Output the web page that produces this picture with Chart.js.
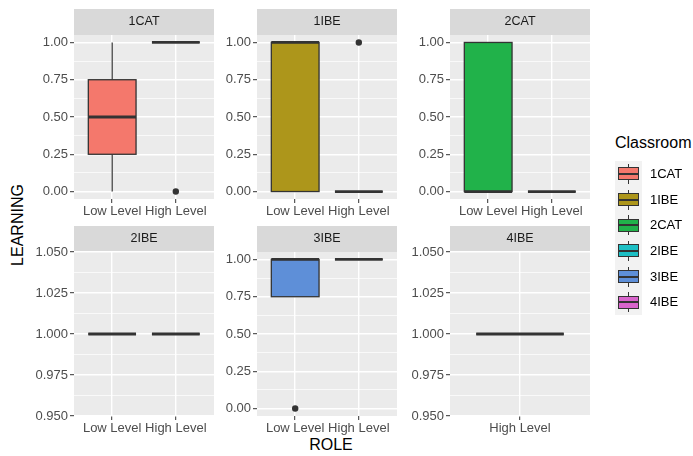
<!DOCTYPE html>
<html>
<head>
<meta charset="utf-8">
<script src="https://cdn.jsdelivr.net/npm/chart.js@4.4.1/dist/chart.umd.min.js"></script>
<style>
  body { margin: 0; background: #fff; font-family: 'Liberation Sans', Arial, sans-serif; }
  #page { position: relative; width: 693px; height: 456px; overflow: hidden; }
  canvas { position: absolute; }
  .title { position: absolute; font-size: 16px; color: #000; white-space: nowrap; }
  .keybg { position: absolute; left: 615px; top: 161px; width: 27px; height: 154px; background: #F2F2F2; }
  .key { position: absolute; }
  .keytext { position: absolute; font-size: 13px; color: #000; white-space: nowrap; }
</style>
</head>
<body>
<div id="page">
  <div class="title" style="left:18px;top:225px;transform:translate(-50%,-50%) rotate(-90deg);">LEARNING</div>
  <div class="title" style="left:331px;top:445px;transform:translate(-50%,-50%);">ROLE</div>
  <div class="title" style="left:615px;top:134px;">Classroom</div>
  <div class="keybg"></div>
</div>
<script>
// facetas y colores
const classrooms = ['1CAT', '1IBE', '2CAT', '2IBE', '3IBE', '4IBE'];
const fillColors = ['#F4786C', '#AD961B', '#21B24A', '#1DBFC4', '#5E8FD8', '#D965CC'];
const panelRoles = [
  ['Low Level', 'High Level'],
  ['Low Level', 'High Level'],
  ['Low Level', 'High Level'],
  ['Low Level', 'High Level'],
  ['Low Level', 'High Level'],
  ['High Level']
];

// estadísticos de cada caja: [faceta][rol]
const whiskerLow  = [[0, 1], [0, 0], [0, 0], [1, 1], [0.75, 1], [1]];
const boxLow      = [[0.25, 1], [0, 0], [0, 0], [1, 1], [0.75, 1], [1]];
const medians     = [[0.5, 1], [1, 0], [0, 0], [1, 1], [1, 1], [1]];
const boxHigh     = [[0.75, 1], [1, 0], [1, 0], [1, 1], [1, 1], [1]];
const whiskerHigh = [[1, 1], [1, 0], [1, 0], [1, 1], [1, 1], [1]];
const outliers    = [[[], [0]], [[], [1]], [[], []], [[], []], [[0], []], [[]]];

// marcas del eje Y
const ticks01 = [0, 0.25, 0.5, 0.75, 1];
const ticks01Labels = ['0.00', '0.25', '0.50', '0.75', '1.00'];
const ticksFlat = [0.95, 0.975, 1, 1.025, 1.05];
const ticksFlatLabels = ['0.950', '0.975', '1.000', '1.025', '1.050'];
const panelTicks = [ticks01, ticks01, ticks01, ticksFlat, ticks01, ticksFlat];
const panelTickLabels = [ticks01Labels, ticks01Labels, ticks01Labels, ticksFlatLabels, ticks01Labels, ticksFlatLabels];

Chart.defaults.font.family = "'Liberation Sans', Arial, sans-serif";

const panelLefts = [74, 257, 450];
const stripTops = [9, 226];
const yAxisW = 50, plotW = 140, plotH = 164, stripH = 26, xAxisH = 30, padR = 6;

const panelPlugin = {
  id: 'panel',
  beforeDraw(chart, args, opts) {
    const ctx = chart.ctx, a = chart.chartArea;
    ctx.save();
    ctx.fillStyle = '#EBEBEB';
    ctx.fillRect(a.left, a.top, a.right - a.left, a.bottom - a.top);
    ctx.fillStyle = '#D9D9D9';
    ctx.fillRect(a.left, a.top - stripH, a.right - a.left, stripH);
    ctx.fillStyle = '#1A1A1A';
    ctx.font = "12.5px 'Liberation Sans', Arial, sans-serif";
    ctx.textAlign = 'center';
    ctx.textBaseline = 'middle';
    ctx.fillText(classrooms[opts.idx], (a.left + a.right) / 2, a.top - stripH / 2);
    ctx.restore();
  },
  afterDatasetsDraw(chart, args, opts) {
    const p = opts.idx;
    const ctx = chart.ctx, xs = chart.scales.x, ys = chart.scales.y;
    ctx.save();
    ctx.strokeStyle = '#333333';
    panelRoles[p].forEach((r, i) => {
      const cx = xs.getPixelForValue(i + 1);
      const half = xs.getPixelForValue(i + 1.375) - cx;
      const yWl = ys.getPixelForValue(whiskerLow[p][i]);
      const yQ1 = ys.getPixelForValue(boxLow[p][i]);
      const yMed = ys.getPixelForValue(medians[p][i]);
      const yQ3 = ys.getPixelForValue(boxHigh[p][i]);
      const yWh = ys.getPixelForValue(whiskerHigh[p][i]);
      // bigotes
      ctx.lineWidth = 1.2;
      ctx.beginPath();
      ctx.moveTo(cx, yWl); ctx.lineTo(cx, yQ1);
      ctx.moveTo(cx, yQ3); ctx.lineTo(cx, yWh);
      ctx.stroke();
      // caja
      ctx.fillStyle = fillColors[p];
      ctx.fillRect(cx - half, yQ3, half * 2, yQ1 - yQ3);
      ctx.lineWidth = 1.3;
      ctx.strokeRect(cx - half, yQ3, half * 2, yQ1 - yQ3);
      // mediana
      ctx.lineWidth = 2.8;
      ctx.beginPath();
      ctx.moveTo(cx - half, yMed); ctx.lineTo(cx + half, yMed);
      ctx.stroke();
    });
    ctx.restore();
  }
};

const page = document.getElementById('page');

classrooms.forEach((name, p) => {
  const row = Math.floor(p / 3), col = p % 3;
  const roles = panelRoles[p];
  const canvas = document.createElement('canvas');
  canvas.width = yAxisW + plotW + padR;
  canvas.height = stripH + plotH + xAxisH;
  canvas.style.left = (panelLefts[col] - yAxisW) + 'px';
  canvas.style.top = stripTops[row] + 'px';
  page.appendChild(canvas);

  // rango Y con expansión del 5%
  const all = [].concat(...whiskerLow[p], ...whiskerHigh[p], ...outliers[p].flat());
  let lo = Math.min(...all), hi = Math.max(...all);
  if (hi === lo) { lo -= 0.05 * Math.abs(lo); hi += 0.05 * Math.abs(hi); }
  else { const e = 0.05 * (hi - lo); lo -= e; hi += e; }

  const major = panelTicks[p];
  const labels = panelTickLabels[p];
  const yTickObjs = [];
  major.forEach((v, i) => {
    yTickObjs.push({ value: v, lbl: labels[i] });
    if (i < major.length - 1) yTickObjs.push({ value: (v + major[i + 1]) / 2, lbl: '', minor: true });
  });

  const outlierData = [];
  outliers[p].forEach((vals, i) => vals.forEach(v => outlierData.push({ x: i + 1, y: v })));

  new Chart(canvas, {
    type: 'scatter',
    data: {
      datasets: [{
        data: outlierData,
        backgroundColor: '#333333',
        borderWidth: 0,
        pointRadius: 3.2
      }]
    },
    options: {
      responsive: false,
      animation: false,
      events: [],
      layout: { padding: { top: stripH, right: padR, left: 0, bottom: 0 } },
      plugins: { legend: { display: false }, tooltip: { enabled: false }, panel: { idx: p } },
      scales: {
        x: {
          type: 'linear',
          min: 0.4,
          max: roles.length + 0.6,
          afterBuildTicks: s => { s.ticks = roles.map((r, i) => ({ value: i + 1, lbl: r })); },
          afterFit: s => { s.height = xAxisH; },
          ticks: {
            callback: (v, i, t) => t[i].lbl,
            font: { size: 13 }, color: '#4D4D4D', padding: 1,
            maxRotation: 0, autoSkip: false
          },
          grid: { color: '#FFFFFF', lineWidth: 1.4, tickColor: '#333333', tickLength: 4, tickWidth: 1 },
          border: { display: false }
        },
        y: {
          type: 'linear',
          min: lo,
          max: hi,
          afterBuildTicks: s => { s.ticks = yTickObjs.map(t => Object.assign({}, t)); },
          afterFit: s => { s.width = yAxisW; },
          ticks: {
            callback: (v, i, t) => t[i].lbl,
            font: { size: 13 }, color: '#4D4D4D', padding: 2, autoSkip: false
          },
          grid: {
            color: '#FFFFFF',
            lineWidth: c => (c.tick && c.tick.minor) ? 0.7 : 1.4,
            tickColor: c => (c.tick && c.tick.minor) ? 'rgba(0,0,0,0)' : '#333333',
            tickLength: 4,
            tickWidth: 1
          },
          border: { display: false }
        }
      }
    },
    plugins: [panelPlugin]
  });
});

// leyenda
classrooms.forEach((name, i) => {
  const cy = 173.8 + 25.7 * i;
  const whisker = document.createElement('div');
  whisker.className = 'key';
  whisker.style.cssText = `left:628px;top:${cy - 10}px;width:1px;height:20px;background:#333;`;
  page.appendChild(whisker);
  const box = document.createElement('div');
  box.className = 'key';
  box.style.cssText = `left:618px;top:${cy - 6.5}px;width:19px;height:11px;background:${fillColors[i]};border:1px solid #333;`;
  page.appendChild(box);
  const med = document.createElement('div');
  med.className = 'key';
  med.style.cssText = `left:618px;top:${cy - 1}px;width:21px;height:2px;background:#333;`;
  page.appendChild(med);
  const txt = document.createElement('div');
  txt.className = 'keytext';
  txt.style.cssText = `left:650px;top:${cy - 8}px;line-height:16px;`;
  txt.textContent = name;
  page.appendChild(txt);
});
</script>
</body>
</html>
